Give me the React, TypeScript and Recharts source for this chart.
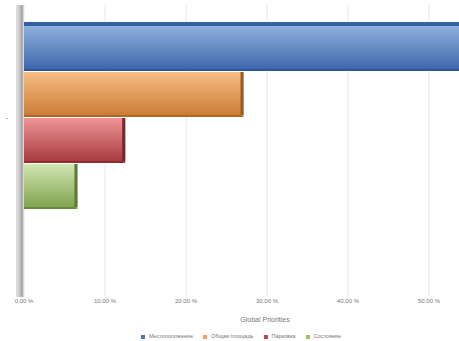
import React from "react";
import { BarChart, Bar, XAxis, YAxis, CartesianGrid, Legend } from "recharts";

const categories = ["-"];
const seriesNames = ["Местоположение", "Общая площадь", "Парковка", "Состояние"];
const locationValues = [56.2];
const areaValues = [27.1];
const parkingValues = [12.5];
const conditionValues = [6.6];
const xTicks = [0, 10, 20, 30, 40, 50];

const data = categories.map((name, i) => ({
  name,
  s0: locationValues[i],
  s1: areaValues[i],
  s2: parkingValues[i],
  s3: conditionValues[i],
}));

const COLORS = [
  { top: "#8fb0dc", bottom: "#3b65aa", side: "#2b4c85", legend: "#4a76c0" },
  { top: "#f7be86", bottom: "#c97a32", side: "#9c5a1f", legend: "#f0a45c" },
  { top: "#ee9598", bottom: "#a6383c", side: "#7e2428", legend: "#c0464a" },
  { top: "#d2e6b2", bottom: "#7da04a", side: "#5c7a32", legend: "#9cc264" },
];

// bar with a darker right side and, for the top bar, a visible top face
const Bar3D = (props: any) => {
  const { x, y, width, height, idx } = props;
  if (!width || width <= 0) return null;
  const c = COLORS[idx];
  const side = 3;
  return (
    <g>
      {idx === 0 && <rect x={x} y={y - 4} width={width} height={4} fill="#3560a4" />}
      <rect x={x} y={y} width={width} height={height} fill={`url(#grad${idx})`} />
      <rect x={x + width - side} y={y} width={side} height={height - 2} fill={c.side} />
      <rect x={x} y={y + height - 2} width={width - 2} height={2} fill={c.side} opacity={0.6} />
    </g>
  );
};

const AxisTitle = (props: any) => {
  const { viewBox } = props;
  const cx = viewBox.x + viewBox.width / 2;
  const by = viewBox.y + viewBox.height - 9;
  return (
    <text x={cx} y={by} textAnchor="middle" fontSize={7} fill="#777">
      Global Priorities
    </text>
  );
};

const App = () => {
  return (
    <div
      style={{
        position: "absolute",
        left: 0,
        top: 0,
        width: 459,
        height: 341,
        overflow: "hidden",
        background: "#fff",
      }}
    >
      <BarChart
        width={515}
        height={341}
        data={data}
        layout="vertical"
        barCategoryGap={0}
        barGap={1}
        margin={{ top: 5, right: 5, bottom: 0, left: 8 }}
        style={{ fontFamily: "Liberation Sans, Arial, sans-serif" }}
      >
        <defs>
          {COLORS.map((c, i) => (
            <linearGradient key={i} id={`grad${i}`} x1="0" y1="0" x2="0" y2="1">
              <stop offset="0%" stopColor={c.top} />
              <stop offset="100%" stopColor={c.bottom} />
            </linearGradient>
          ))}
          <linearGradient id="wall" gradientUnits="userSpaceOnUse" x1="16" y1="0" x2="24" y2="0">
            <stop offset="0%" stopColor="#e2e2e2" />
            <stop offset="50%" stopColor="#c6c6c6" />
            <stop offset="75%" stopColor="#9c9c9c" />
            <stop offset="100%" stopColor="#eeeeee" />
          </linearGradient>
        </defs>
        <CartesianGrid horizontal={false} stroke="#e8e8e8" />
        <XAxis
          type="number"
          domain={[0, 60]}
          ticks={xTicks}
          tickFormatter={(v: number) => `${v.toFixed(2)} %`}
          axisLine={false}
          tickLine={false}
          tickSize={0}
          tickMargin={2}
          tick={{ fontSize: 6, fill: "#777" }}
          height={34}
          padding={{ left: 4 }}
          label={<AxisTitle />}
        />
        <YAxis
          type="category"
          dataKey="name"
          width={12}
          axisLine={{ stroke: "url(#wall)", strokeWidth: 8 }}
          tickLine={false}
          tickMargin={6}
          tick={{ fontSize: 7, fill: "#666" }}
          padding={{ top: 21, bottom: 88 }}
        />
        {seriesNames.map((n, i) => (
          <Bar
            key={n}
            dataKey={`s${i}`}
            name={n}
            fill={COLORS[i].legend}
            isAnimationActive={false}
            shape={(p: any) => <Bar3D {...p} idx={i} />}
          />
        ))}
        <Legend
          verticalAlign="bottom"
          iconType="square"
          iconSize={4}
          wrapperStyle={{ fontSize: 5.5, color: "#777", lineHeight: "10px", left: 100, width: 292 }}
          formatter={(v: string) => <span style={{ color: "#777" }}>{v}</span>}
        />
      </BarChart>
    </div>
  );
};

export default App;
